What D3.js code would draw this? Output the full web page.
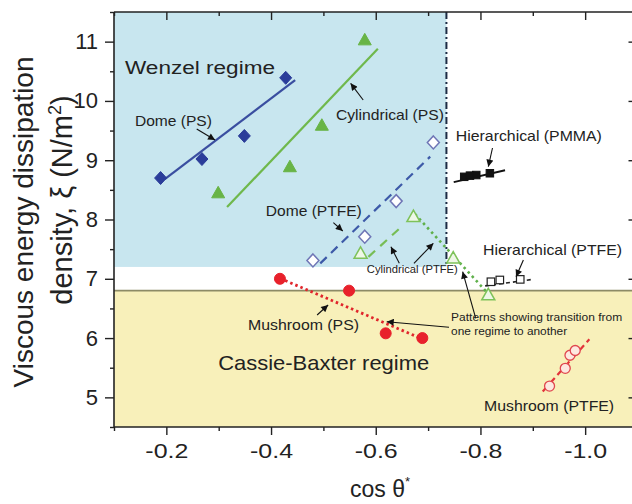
<!DOCTYPE html>
<html><head><meta charset="utf-8">
<script src="https://cdn.jsdelivr.net/npm/d3@7"></script>
<style>body{margin:0;background:#fff}svg{display:block}text{font-family:"Liberation Sans",Arial,sans-serif}</style>
</head><body><div id="chart"></div>
<script>
// ---- data ----
const xMajorTicks = [-0.2, -0.4, -0.6, -0.8, -1.0];
const xTickLabels = ["-0.2", "-0.4", "-0.6", "-0.8", "-1.0"];
const xMinorTicks = [-0.1, -0.3, -0.5, -0.7, -0.9, -1.1];
const yMajorTicks = [5, 6, 7, 8, 9, 10, 11];
const yTickLabels = ["5", "6", "7", "8", "9", "10", "11"];
const yMinorTicks = [4.5, 5.5, 6.5, 7.5, 8.5, 9.5, 10.5, 11.5];

const wenzelCosLimit = -0.735;
const wenzelXiLimit = 7.2;
const cassieXiLimit = 6.8;

const domePS_cos = [-0.189, -0.268, -0.349, -0.428];
const domePS_xi  = [8.70, 9.02, 9.41, 10.39];
const domePSfit_cos = [-0.197, -0.446];
const domePSfit_xi  = [8.68, 10.35];

const cylPS_cos = [-0.299, -0.436, -0.497, -0.579];
const cylPS_xi  = [8.45, 8.89, 9.59, 11.03];
const cylPSfit_cos = [-0.316, -0.604];
const cylPSfit_xi  = [8.21, 10.88];

const domePTFE_cos = [-0.480, -0.579, -0.639, -0.710];
const domePTFE_xi  = [7.31, 7.71, 8.31, 9.30];
const domePTFEfit_cos = [-0.494, -0.704];
const domePTFEfit_xi  = [7.26, 9.06];

const cylPTFE_cos = [-0.571, -0.672, -0.748, -0.815];
const cylPTFE_xi  = [7.43, 8.05, 7.35, 6.73];
const cylPTFEfit_cos = [-0.586, -0.653];
const cylPTFEfit_xi  = [7.37, 7.91];
const cylPTFEtrans_cos = [-0.675, -0.822];
const cylPTFEtrans_xi  = [8.09, 6.68];

const hierPMMA_cos = [-0.769, -0.780, -0.792, -0.818];
const hierPMMA_xi  = [8.72, 8.74, 8.75, 8.78];
const hierPMMAfit_cos = [-0.749, -0.847];
const hierPMMAfit_xi  = [8.63, 8.83];

const hierPTFE_cos = [-0.820, -0.837, -0.876];
const hierPTFE_xi  = [6.95, 6.98, 6.99];
const hierPTFEfit_cos = [-0.809, -0.900];
const hierPTFEfit_xi  = [6.88, 6.99];

const mushPS_cos = [-0.417, -0.549, -0.619, -0.689];
const mushPS_xi  = [7.00, 6.80, 6.08, 6.00];
const mushPSfit_cos = [-0.427, -0.685];
const mushPSfit_xi  = [6.97, 6.00];

const mushPTFE_cos = [-0.932, -0.962, -0.971, -0.981];
const mushPTFE_xi  = [5.19, 5.49, 5.71, 5.79];
const mushPTFEfit_cos = [-0.919, -1.008];
const mushPTFEfit_xi  = [5.10, 5.98];

const labelTexts = ["Wenzel regime", "Cassie-Baxter regime", "Dome (PS)", "Cylindrical (PS)",
  "Hierarchical (PMMA)", "Dome (PTFE)", "Cylindrical (PTFE)", "Hierarchical (PTFE)",
  "Patterns showing transition from", "one regime to another", "Mushroom (PS)", "Mushroom (PTFE)"];
const labelCos = [-0.121, -0.299, -0.140, -0.524, -0.753, -0.390, -0.583, -0.805, -0.744, -0.744, -0.356, -0.807];
const labelXi  = [10.46, 5.46, 9.577, 9.67, 9.316, 8.051, 7.106, 7.401, 6.28, 6.052, 6.128, 4.778];

const arrowFromCos = [-0.258, -0.576, -0.823, -0.519, -0.645, -0.673, -0.882, -0.791, -0.740, -0.488];
const arrowFromXi  = [9.527, 10.016, 9.206, 7.946, 7.261, 7.261, 7.317, 6.333, 6.182, 6.389];
const arrowToCos   = [-0.293, -0.552, -0.815, -0.537, -0.629, -0.710, -0.868, -0.766, -0.621, -0.509];
const arrowToXi    = [9.341, 10.297, 8.891, 7.806, 7.541, 7.599, 7.035, 7.120, 6.276, 6.558];

// ---- layout ----
const W = 632, H = 504;
const L = 114, T = 12, B = 427, R = 637.5;
const FONT = '"Liberation Sans", Arial, sans-serif';
const x = d3.scaleLinear().domain([-0.1, -1.1]).range([L, R]);
const y = d3.scaleLinear().domain([4.5, 11.5]).range([B, T]);

const svg = d3.select("#chart").append("svg").attr("width", W).attr("height", H);
const defs = svg.append("defs");
defs.append("marker").attr("id", "ah").attr("viewBox", "0 0 10 10").attr("refX", 10).attr("refY", 5)
  .attr("markerWidth", 9).attr("markerHeight", 7).attr("markerUnits", "userSpaceOnUse").attr("orient", "auto")
  .append("path").attr("d", "M0,0L10,5L0,10Z").attr("fill", "#111");

// backgrounds
svg.append("rect").attr("x", x(-0.1)).attr("y", y(11.5)).attr("width", x(wenzelCosLimit) - x(-0.1))
  .attr("height", y(wenzelXiLimit) - y(11.5)).attr("fill", "#c8e6ef");
svg.append("rect").attr("x", x(-0.1)).attr("y", y(cassieXiLimit)).attr("width", R - L)
  .attr("height", y(4.5) - y(cassieXiLimit)).attr("fill", "#f8f0ba");
svg.append("line").attr("x1", L).attr("x2", R).attr("y1", y(cassieXiLimit)).attr("y2", y(cassieXiLimit))
  .attr("stroke", "#8d8b66").attr("stroke-width", 1.6);
svg.append("line").attr("x1", x(wenzelCosLimit)).attr("x2", x(wenzelCosLimit)).attr("y1", T).attr("y2", y(wenzelXiLimit))
  .attr("stroke", "#1d2b44").attr("stroke-width", 2).attr("stroke-dasharray", "7,3,2,3");

const line = d3.line().x(d => x(d[0])).y(d => y(d[1]));
const zip = (a, b) => a.map((v, i) => [v, b[i]]);
function fit(cs, xs, color, width, dash) {
  svg.append("path").attr("d", line(zip(cs, xs))).attr("fill", "none").attr("stroke", color)
    .attr("stroke-width", width).attr("stroke-dasharray", dash || null);
}
const diamond = "M0,-6.5L6,0L0,6.5L-6,0Z";
const tri = "M0,-6.5L6.5,5L-6.5,5Z";
function pts(cs, xs, shape, fill, stroke, sw) {
  svg.append("g").selectAll("path").data(zip(cs, xs)).join("path")
    .attr("transform", d => `translate(${x(d[0])},${y(d[1])})`).attr("d", shape)
    .attr("fill", fill).attr("stroke", stroke).attr("stroke-width", sw);
}
function circles(cs, xs, r, fill, stroke, sw) {
  svg.append("g").selectAll("circle").data(zip(cs, xs)).join("circle")
    .attr("cx", d => x(d[0])).attr("cy", d => y(d[1])).attr("r", r)
    .attr("fill", fill).attr("stroke", stroke).attr("stroke-width", sw);
}
function squares(cs, xs, s, fill, stroke, sw) {
  svg.append("g").selectAll("rect").data(zip(cs, xs)).join("rect")
    .attr("x", d => x(d[0]) - s / 2).attr("y", d => y(d[1]) - s / 2).attr("width", s).attr("height", s)
    .attr("fill", fill).attr("stroke", stroke).attr("stroke-width", sw);
}

// series
fit(domePSfit_cos, domePSfit_xi, "#3a4ea0", 2.2);
pts(domePS_cos, domePS_xi, diamond, "#2b3d9a", "#2b3d9a", 1);
fit(cylPSfit_cos, cylPSfit_xi, "#6fb84c", 2.2);
pts(cylPS_cos, cylPS_xi, tri, "#68b446", "#68b446", 1);
fit(domePTFEfit_cos, domePTFEfit_xi, "#3d5aa8", 2.2, "9,6");
pts(domePTFE_cos, domePTFE_xi, diamond, "#ffffff", "#6f76b6", 1.5);
fit(cylPTFEfit_cos, cylPTFEfit_xi, "#77bd55", 2.2, "9,7");
fit(cylPTFEtrans_cos, cylPTFEtrans_xi, "#5fb04a", 2.6, "2.5,3.5");
pts(cylPTFE_cos, cylPTFE_xi, tri, "#eef7e6", "#7ec25a", 1.5);
fit(hierPMMAfit_cos, hierPMMAfit_xi, "#111", 2);
squares(hierPMMA_cos, hierPMMA_xi, 7.5, "#111", "#111", 1);
fit(hierPTFEfit_cos, hierPTFEfit_xi, "#222", 1.6, "4,3");
squares(hierPTFE_cos, hierPTFE_xi, 7.5, "#ffffff", "#222", 1.2);
fit(mushPSfit_cos, mushPSfit_xi, "#e0262c", 2.8, "2.5,3");
circles(mushPS_cos, mushPS_xi, 5.5, "#e8212b", "#e8212b", 1);
fit(mushPTFEfit_cos, mushPTFEfit_xi, "#e3343a", 2.2, "7,4");
circles(mushPTFE_cos, mushPTFE_xi, 5, "#fde8e0", "#e0474f", 1.3);

// arrows
arrowFromCos.forEach((c, i) => {
  svg.append("line").attr("x1", x(c)).attr("y1", y(arrowFromXi[i]))
    .attr("x2", x(arrowToCos[i])).attr("y2", y(arrowToXi[i]))
    .attr("stroke", "#111").attr("stroke-width", 1.1).attr("marker-end", "url(#ah)");
});

// labels
const labelSizes = [18, 21, 15, 15, 15, 15, 11.5, 15, 11.5, 11.5, 15.5, 15];
const labelWidths = [150, 211, 77, 108, 146, 96, 91, 139, 171, 116, 111, 130];
labelTexts.forEach((t, i) => {
  svg.append("text").attr("x", x(labelCos[i])).attr("y", y(labelXi[i]))
    .attr("font-size", labelSizes[i]).attr("fill", "#222")
    .attr("textLength", labelWidths[i]).attr("lengthAdjust", "spacingAndGlyphs").text(t);
});

// axes
const ax = (g, axis) => { g.call(axis); g.select(".domain").remove(); g.selectAll("line").attr("stroke", "#222").attr("stroke-width", 1.4); return g; };
const bottom = ax(svg.append("g").attr("transform", `translate(0,${B})`),
  d3.axisBottom(x).tickValues(xMajorTicks).tickSize(8).tickFormat((d, i) => xTickLabels[i]).tickPadding(8));
bottom.selectAll("text").attr("font-size", 21).attr("font-family", FONT).attr("fill", "#222")
  .attr("textLength", 43).attr("lengthAdjust", "spacingAndGlyphs");
ax(svg.append("g").attr("transform", `translate(0,${B})`), d3.axisBottom(x).tickValues(xMinorTicks).tickSize(4).tickFormat(""));
ax(svg.append("g").attr("transform", `translate(0,${T})`), d3.axisTop(x).tickValues(xMajorTicks).tickSize(-8).tickFormat(""));
ax(svg.append("g").attr("transform", `translate(0,${T})`), d3.axisTop(x).tickValues(xMinorTicks).tickSize(-4).tickFormat(""));
const left = ax(svg.append("g").attr("transform", `translate(${L},0)`),
  d3.axisLeft(y).tickValues(yMajorTicks).tickSize(9).tickFormat((d, i) => yTickLabels[i]).tickPadding(7));
left.selectAll("text").attr("font-size", 22).attr("font-family", FONT).attr("fill", "#222");
ax(svg.append("g").attr("transform", `translate(${L},0)`), d3.axisLeft(y).tickValues(yMinorTicks).tickSize(4).tickFormat(""));
ax(svg.append("g").attr("transform", `translate(${R},0)`), d3.axisRight(y).tickValues(yMajorTicks).tickSize(-9).tickFormat(""));
ax(svg.append("g").attr("transform", `translate(${R},0)`), d3.axisRight(y).tickValues(yMinorTicks).tickSize(-4).tickFormat(""));

// frame
svg.append("line").attr("x1", L).attr("x2", R).attr("y1", T).attr("y2", T).attr("stroke", "#222").attr("stroke-width", 1.6);
svg.append("line").attr("x1", L).attr("x2", R).attr("y1", B).attr("y2", B).attr("stroke", "#222").attr("stroke-width", 1.6);
svg.append("line").attr("x1", L).attr("x2", L).attr("y1", T).attr("y2", B).attr("stroke", "#222").attr("stroke-width", 1.6);

// axis titles
const xt = svg.append("text").attr("x", 350).attr("y", 497).attr("font-size", 23).attr("fill", "#222");
xt.append("tspan").text("cos θ");
xt.append("tspan").attr("dy", -11).attr("font-size", 13).text("*");

svg.append("text").attr("transform", "translate(33,222) rotate(-90)").attr("text-anchor", "middle")
  .attr("font-size", 28).attr("fill", "#222").text("Viscous energy dissipation");
const yt2 = svg.append("text").attr("transform", "translate(72,200) rotate(-90)").attr("text-anchor", "middle")
  .attr("font-size", 29).attr("fill", "#222");
yt2.append("tspan").text("density, ξ (N/m");
yt2.append("tspan").attr("dy", -11).attr("font-size", 18).text("2");
yt2.append("tspan").attr("dy", 11).text(")");
</script></body></html>
